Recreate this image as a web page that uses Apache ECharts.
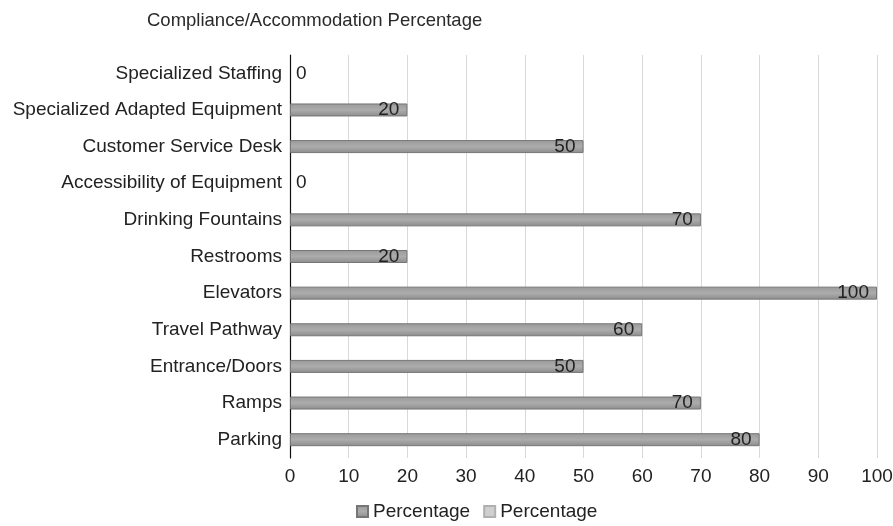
<!DOCTYPE html>
<html><head><meta charset="utf-8">
<script src="https://cdn.jsdelivr.net/npm/echarts@6/dist/echarts.min.js"></script>
<style>html,body{margin:0;padding:0;background:#fff}#c{width:893px;height:526px}</style>
</head><body><div id="c"></div>
<script>
const categories = ['Parking','Ramps','Entrance/Doors','Travel Pathway','Elevators','Restrooms','Drinking Fountains','Accessibility of Equipment','Customer Service Desk','Specialized Adapted Equipment','Specialized Staffing'];
const percentage = [80,70,50,60,100,20,70,0,50,20,0];
const percentage2 = [null,null,null,null,null,null,null,null,null,null,null];
const xTicks = [0,10,20,30,40,50,60,70,80,90,100];

const font = 'Liberation Sans, Arial, sans-serif';
const fs = 19;
const chart = echarts.init(document.getElementById('c'));
chart.setOption({
  backgroundColor: '#ffffff',
  animation: false,
  title: {text: 'Compliance/Accommodation Percentage', left: 142, top: 6,
    textStyle: {fontFamily: font, fontSize: 18.5, fontWeight: 'normal', color: '#2a2a2a'}},
  grid: {left: 290, right: 16, top: 55, bottom: 68, containLabel: false, outerBoundsMode: 'none'},
  xAxis: {type: 'value', min: xTicks[0], max: xTicks[xTicks.length-1], interval: 10,
    axisLine: {show: false}, axisTick: {show: false},
    axisLabel: {fontFamily: font, fontSize: fs, color: '#222', margin: 9},
    splitLine: {show: true, lineStyle: {color: '#d9d9d9', width: 1}}},
  yAxis: {type: 'category', data: categories,
    axisLine: {show: true, lineStyle: {color: '#111', width: 1.2}}, axisTick: {show: false},
    axisLabel: {fontFamily: font, fontSize: fs, color: '#222', margin: 8}},
  legend: {bottom: 0, left: 351, itemWidth: 11, itemHeight: 11, itemGap: 13,
    textStyle: {fontFamily: font, fontSize: fs, color: '#222'},
    data: [{name: 'Percentage', icon: 'rect'}, {name: 'Percentage\u200b', icon: 'rect'}]},
  series: [
    {name: 'Percentage', type: 'bar', barWidth: 13, barGap: '-100%',
     itemStyle: {color: new echarts.graphic.LinearGradient(0,0,0,1,[
        {offset:0,color:'#9a9a9a'},{offset:0.5,color:'#acacac'},{offset:1,color:'#8c8c8c'}]),
        borderColor: '#767676', borderWidth: 1},
     label: {show: true, position: 'insideRight', distance: 8, fontFamily: font, fontSize: fs, color: '#222'},
     data: percentage.map(v => v === 0 ? {value: v, itemStyle: {borderWidth: 0}, label: {position: 'right', distance: 6}} : v)},
    {name: 'Percentage\u200b', type: 'bar', barWidth: 13, barGap: '-100%',
     itemStyle: {color: '#cfcfcf', borderColor: '#b0b0b0', borderWidth: 1},
     data: percentage2}
  ]
});
</script></body></html>
